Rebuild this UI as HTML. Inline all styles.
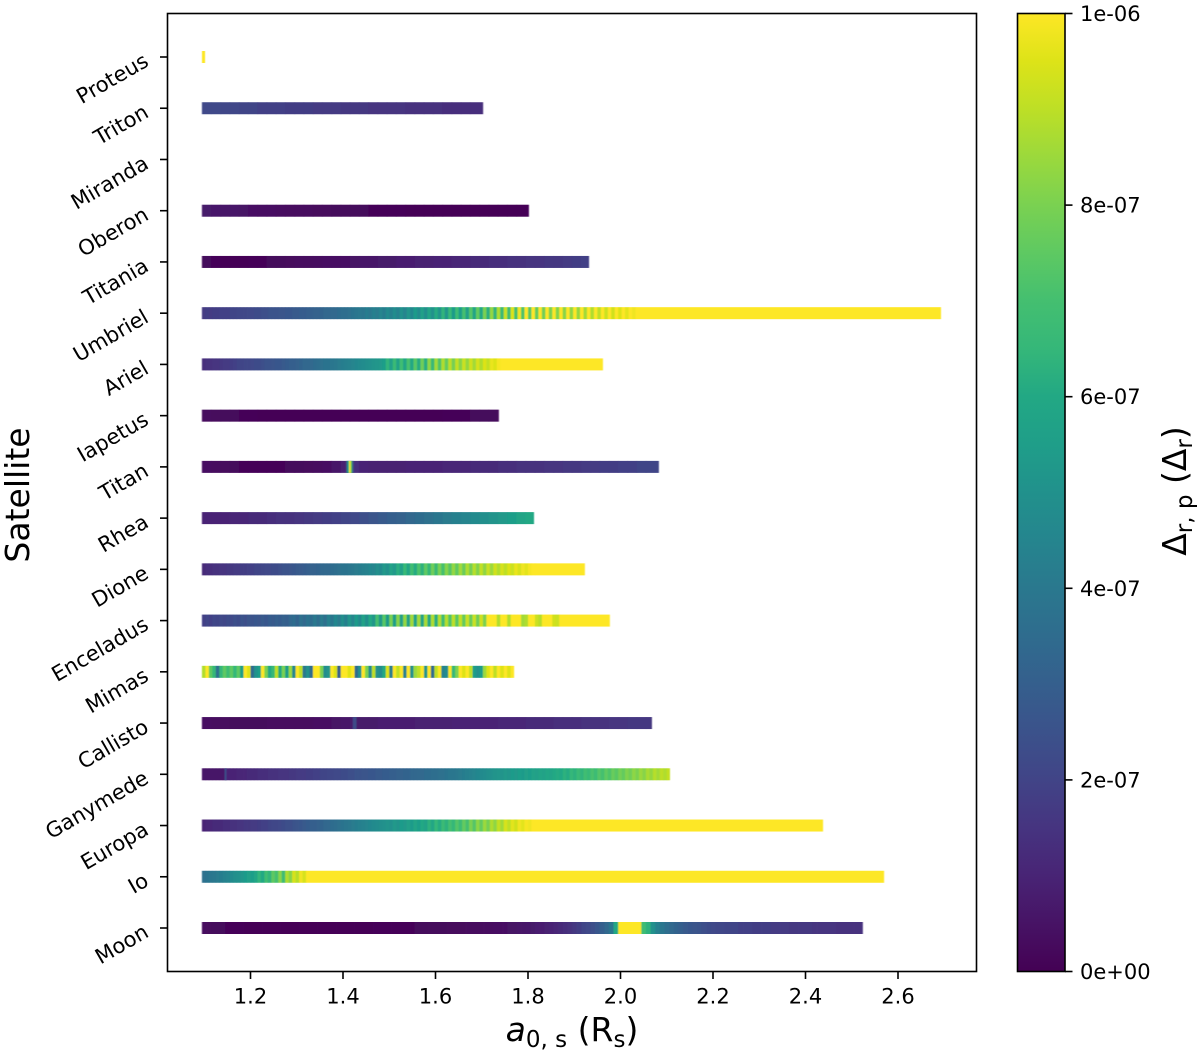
<!DOCTYPE html>
<html lang="en">
<head>
<meta charset="utf-8">
<title>Satellite heatmap</title>
<style>
html,body{margin:0;padding:0;background:#fff;}
svg{display:block;}
text{font-family:"DejaVu Sans","Liberation Sans",sans-serif;fill:#000;}
</style>
</head>
<body>
<svg id="chart" xmlns="http://www.w3.org/2000/svg" width="1200" height="1054" viewBox="0 0 1200 1054">
  <defs>
    <filter id="soft" x="-2%" y="-60%" width="104%" height="220%">
      <feGaussianBlur stdDeviation="0.4 0.3"/>
    </filter>
    <linearGradient id="viridis-gradient" x1="0" y1="1" x2="0" y2="0"></linearGradient>
  </defs>
  <rect x="0" y="0" width="1200" height="1054" fill="#fff"/>
  <g id="bars"></g>
  <rect x="167.5" y="13.5" width="809" height="958" fill="none" stroke="#000" stroke-width="1.6"/>
  <g id="xticks"></g>
  <g id="yticks"></g>
  <text x="572" y="1041" text-anchor="middle" font-size="33"><tspan font-style="italic">a</tspan><tspan font-size="23" dy="6">0, s</tspan><tspan dy="-6"> (R</tspan><tspan font-size="23" dy="6">s</tspan><tspan dy="-6">)</tspan></text>
  <text transform="translate(29 495) rotate(-90)" text-anchor="middle" font-size="33">Satellite</text>
  <rect x="1017.5" y="13.5" width="47.5" height="958" fill="url(#viridis-gradient)" stroke="#000" stroke-width="1.6"/>
  <g id="cticks"></g>
  <text transform="translate(1186 491) rotate(-90)" text-anchor="middle" font-size="33">Δ<tspan font-size="23" dy="6">r, p</tspan><tspan dy="-6"> (Δ</tspan><tspan font-size="23" dy="6">r</tspan><tspan dy="-6">)</tspan></text>
</svg>
<script>
// Categories, bottom to top
const satellites = ["Moon","Io","Europa","Ganymede","Callisto","Mimas","Enceladus","Dione","Rhea","Titan","Iapetus","Ariel","Umbriel","Titania","Oberon","Miranda","Triton","Proteus"];
// Tick values
const xTicks = [1.2,1.4,1.6,1.8,2.0,2.2,2.4,2.6];
const colorTicks = [0,2,4,6,8,10];
const colorTickLabels = ["0e+00","2e-07","4e-07","6e-07","8e-07","1e-06"];
// Outer edge of the a0,s range for each satellite (null: nothing plotted)
const rowStart = 1.095;
const rowEnds = [2.524,2.57,2.438,2.107,2.068,1.77,1.977,1.923,1.813,2.083,1.737,1.962,2.693,1.932,1.802,null,1.703,1.102];
// a0,s spacing between samples for each satellite
const rowSteps = [0.01,0.0075,0.0075,0.0075,0.02,0.0075,0.0075,0.0075,0.02,0.02,0.02,0.0075,0.0075,0.02,0.02,0.02,0.02,0.007];
// Series values, in units of 1e-7; the last sample continues to the row edge
const valuesMoon = [0.3,0.25,0.2,0.2,0.2,0.15,0.15,0.15,0.15,0.1,0.1,0.1,0.1,0.1,0.1,0.1,0.1,0.1,0.1,0.1,0.1,0.1,0.1,0.1,0.1,0.1,0.1,0.1,0.1,0.1,0.1,0.1,0.1,0.1,0.1,0.1,0.1,0.15,0.15,0.15,0.15,0.15,0.15,0.15,0.15,0.15,0.2,0.2,0.2,0.2,0.2,0.2,0.2,0.25,0.25,0.25,0.25,0.3,0.3,0.3,0.3,0.35,0.35,0.4,0.4,0.45,0.5,0.5,0.55,0.6,0.65,0.7,0.8,0.8,0.9,1.0,1.1,1.2,1.3,1.4,1.6,1.8,2.0,2.2,2.4,2.7,3.0,3.4,3.9,6,10,10,10,10,10,6.8,6.3,5.0,4.3,3.9,3.6,3.4,3.2,3.0,2.8,2.7,2.6,2.5,2.4,2.3,2.2,2.1,2.1,2.0,2.0,2.0,1.9,1.9,1.9,1.8,1.8,1.8,1.8,1.7,1.7,1.7,1.7,1.6,1.6,1.6,1.6,1.6,1.5,1.5,1.5,1.5,1.5,1.4,1.4,1.4,1.4,1.4,1.4];
const valuesIo = [3.7,3.8,3.9,4.0,4.1,4.2,4.4,4.5,4.7,4.9,5.0,5.2,5.4,5.6,5.5,5.9,6.4,6.0,6.9,6.4,7.5,7.0,8.2,6.8,8.8,8.2,9.4,8.9,9.8,9.4,10];
const valuesEuropa = [1.0,1.1,1.1,1.2,1.2,1.2,1.3,1.3,1.4,1.4,1.5,1.5,1.6,1.6,1.7,1.7,1.8,1.9,1.9,2.0,2.1,2.1,2.2,2.3,2.4,2.4,2.5,2.6,2.7,2.8,2.9,3.0,3.0,3.1,3.2,3.3,3.4,3.5,3.6,3.7,3.8,3.9,4.0,4.1,4.2,4.3,4.4,4.5,4.6,4.7,4.8,4.9,5.0,5.1,5.0,5.3,5.1,5.4,5.3,5.6,5.4,5.8,5.5,6.0,5.7,6.3,5.9,6.5,6.1,6.7,6.3,7.0,6.5,7.3,6.8,7.6,7.0,8.0,7.3,8.3,7.6,8.5,7.9,8.8,8.3,9.1,8.6,9.4,9.0,9.6,9.3,9.8,9.6,9.9,9.8,10,10,10];
const valuesGanymede = [0.6,0.6,0.6,0.6,0.6,0.6,0.6,1.0,1.0,1.0,1.1,1.1,1.1,1.2,1.2,1.2,1.3,1.3,1.3,1.4,1.4,1.4,1.5,1.5,1.5,1.6,1.6,1.7,1.7,1.7,1.8,1.8,1.9,1.9,2.0,2.0,2.1,2.1,2.2,2.2,2.3,2.3,2.4,2.4,2.5,2.5,2.6,2.6,2.7,2.7,2.8,2.8,2.9,2.9,3.0,3.0,3.1,3.1,3.2,3.2,3.3,3.3,3.4,3.4,3.5,3.5,3.6,3.6,3.7,3.7,3.8,3.9,3.9,4.0,4.1,4.2,4.3,4.4,4.5,4.6,4.7,4.8,4.9,5.0,5.1,5.2,5.1,5.3,5.2,5.4,5.3,5.5,5.4,5.6,5.5,5.7,5.6,5.8,5.7,5.9,5.8,6.0,6.1,6.0,6.3,6.1,6.5,6.3,6.7,6.4,6.9,6.6,7.1,6.8,7.3,7.0,7.5,7.2,7.7,7.4,7.9,7.6,8.1,7.8,8.3,8.0,8.5,8.2,8.7,8.4,8.9,8.6,9.0,8.8,9.1];
const valuesCallisto = [0.4,0.3,0.3,0.2,0.2,0.2,0.2,0.3,0.3,0.3,0.3,0.3,0.4,0.4,0.5,0.6,0.7,0.7,0.7,0.8,0.8,0.8,0.8,0.9,0.9,0.9,0.9,1.0,1.0,1.0,1.0,1.0,1.1,1.1,1.1,1.2,1.2,1.2,1.3,1.3,1.3,1.4,1.4,1.4,1.5,1.5,1.6,1.6,1.6];
const valuesMimas = [8.8,10,7.5,6.5,3.7,6.5,7.5,6.8,7.5,6.5,7.5,5.5,10,9.5,3.5,5,5.5,10,8,6,6.5,9,6,8,5.5,8.5,4.6,10,9,4,5,3.5,10,10,8,4.8,5.2,10,9.5,3,10,10,9.5,10,3.5,5,10,8,4.8,9,5,4.8,6,9.5,4.2,10,9,10,4.4,10,5,8.5,9,10,5.2,10,3.5,9,10,4.4,4.8,10,6.5,8,10,9.5,10,9,5.5,5,5.5,8.5,9.5,10,9,10,9.5,10,9.5,10,10];
const valuesEnceladus = [1.9,2.0,1.9,2.1,2.0,2.2,2.1,2.3,2.2,2.4,2.3,2.5,2.4,2.6,2.5,2.7,2.6,2.8,2.7,2.9,2.8,3.0,2.9,3.1,3.0,3.3,3.5,3.2,3.7,3.4,3.8,3.5,4.0,3.6,4.1,3.7,4.4,3.9,4.6,4.1,4.9,4.3,5.2,4.5,5.4,4.7,5.7,4.9,6.0,5.2,7.0,5.3,7.4,5.4,8.0,5.5,8.2,5.6,8.4,5.7,8.6,5.8,8.6,5.8,8.7,6.0,8.8,6.2,8.9,6.8,8.9,7.2,9.0,7.4,9.1,7.6,9.2,7.7,9.2,7.8,9.3,8.0,10,10,10,8.8,10,10,8.8,10,10,10,8.6,8.8,10,10,9.2,8.9,10,10,10,9.3,9.2,10];
const valuesDione = [1.2,1.3,1.3,1.4,1.4,1.5,1.5,1.6,1.6,1.7,1.7,1.8,1.8,1.9,1.9,2.0,2.0,2.1,2.2,2.2,2.3,2.3,2.4,2.5,2.5,2.6,2.7,2.8,2.8,2.9,3.0,3.1,3.1,3.2,3.3,3.4,3.4,3.5,3.6,3.7,3.8,3.8,3.9,4.0,4.1,4.2,4.3,4.4,4.6,4.5,4.9,4.7,5.3,5.0,5.7,5.3,6.2,5.6,6.6,5.9,6.9,6.1,7.2,6.3,7.5,6.5,7.8,6.7,8.0,7.0,8.2,7.3,8.4,7.5,8.6,7.7,8.8,7.9,8.9,8.1,9.1,8.3,9.2,8.5,9.3,8.8,9.4,9.0,9.5,9.2,9.7,9.4,9.8,9.6,9.9,10,10];
const valuesRhea = [1.0,1.0,1.0,1.1,1.1,1.2,1.2,1.3,1.4,1.4,1.5,1.6,1.7,1.8,1.9,2.0,2.2,2.4,2.6,2.8,3.0,3.1,3.3,3.5,3.7,3.9,4.1,4.3,4.5,4.7,4.9,5.1,5.3,5.5,5.8,6.0];
const valuesTitan = [0.4,0.3,0.25,0.2,0.15,0.15,0.15,0.15,0.15,0.2,0.2,0.25,0.3,0.4,0.6,0.9,1.3,1.0,0.9,0.9,0.9,0.9,1.0,1.0,1.0,1.0,1.1,1.1,1.1,1.2,1.2,1.2,1.3,1.3,1.4,1.4,1.4,1.5,1.5,1.6,1.6,1.7,1.7,1.8,1.8,1.9,1.9,2.0,2.0];
const valuesIapetus = [0.3,0.25,0.2,0.2,0.15,0.15,0.1,0.1,0.1,0.1,0.1,0.1,0.1,0.1,0.1,0.1,0.1,0.1,0.1,0.1,0.1,0.1,0.1,0.1,0.1,0.1,0.15,0.15,0.15,0.2,0.2,0.2];
const valuesAriel = [1.3,1.4,1.4,1.5,1.5,1.6,1.7,1.7,1.8,1.9,2.0,2.0,2.1,2.1,2.2,2.3,2.3,2.4,2.5,2.5,2.6,2.7,2.7,2.8,2.9,3.0,3.0,3.1,3.2,3.3,3.3,3.4,3.5,3.6,3.7,3.8,3.8,3.9,4.0,4.1,4.2,4.3,4.4,4.5,4.6,4.7,4.8,4.9,5.0,5.1,5.2,5.3,5.5,6.4,5.6,6.7,5.7,6.9,5.8,7.1,6.0,7.4,6.1,7.8,6.2,8.3,6.6,8.6,7.2,8.8,7.6,9.0,7.9,9.1,8.2,9.2,8.4,9.3,8.6,9.4,8.8,9.5,9.1,9.7,9.5,9.9,10];
const valuesUmbriel = [1.7,1.8,1.7,1.8,1.8,1.9,1.9,1.9,2.0,2.0,2.1,2.1,2.1,2.2,2.2,2.3,2.3,2.4,2.4,2.5,2.5,2.5,2.6,2.6,2.7,2.7,2.8,2.8,2.9,2.9,3.0,3.0,3.1,3.1,3.2,3.3,3.3,3.4,3.4,3.5,3.6,3.6,3.7,3.8,3.9,4.0,3.9,4.2,4.0,4.3,4.1,4.5,4.2,4.7,4.3,4.8,4.4,5.0,4.5,5.2,4.6,5.4,4.8,5.6,4.9,5.8,5.0,6.1,5.1,6.4,5.2,6.6,5.4,6.8,5.5,7.0,5.6,7.3,5.8,7.6,6.0,8.0,6.2,8.4,6.4,8.8,6.6,9.2,6.8,9.5,7.0,9.8,7.2,10,7.4,10,7.6,10,7.8,10,8.0,10,8.1,10,8.2,10,8.3,10,8.4,10,8.6,10,8.8,10,9.0,10,9.2,10,9.3,10,9.5,10,9.6,10,9.8,10];
const valuesTitania = [0.2,0.15,0.1,0.1,0.1,0.15,0.15,0.2,0.2,0.25,0.3,0.3,0.35,0.4,0.4,0.45,0.5,0.55,0.6,0.7,0.7,0.8,0.8,0.9,0.9,1.0,1.0,1.1,1.1,1.2,1.2,1.3,1.3,1.4,1.4,1.5,1.5,1.6,1.6,1.7,1.8,1.9];
const valuesOberon = [0.7,0.65,0.6,0.55,0.5,0.45,0.4,0.4,0.35,0.3,0.3,0.3,0.25,0.25,0.2,0.2,0.2,0.2,0.15,0.15,0.15,0.15,0.1,0.1,0.1,0.1,0.1,0.1,0.1,0.1,0.1,0.1,0.1,0.1,0.1];
const valuesMiranda = [];
const valuesTriton = [2.2,2.2,2.1,2.1,2.0,2.0,1.9,1.9,1.9,1.8,1.8,1.8,1.7,1.7,1.7,1.6,1.6,1.6,1.5,1.5,1.5,1.5,1.4,1.4,1.4,1.4,1.3,1.3,1.3,1.3];
const valuesProteus = [10];
const seriesValues = [valuesMoon,valuesIo,valuesEuropa,valuesGanymede,valuesCallisto,valuesMimas,valuesEnceladus,valuesDione,valuesRhea,valuesTitan,valuesIapetus,valuesAriel,valuesUmbriel,valuesTitania,valuesOberon,valuesMiranda,valuesTriton,valuesProteus];
// Narrow features on top of the rows
const spikeRows = ["Titan","Titan","Titan","Titan","Titan","Callisto","Callisto","Ganymede"];
const spikeA = [1.409,1.412,1.415,1.418,1.421,1.423,1.427,1.146];
const spikeValues = [3.5,6,10,8,3,2.2,2.4,2.4];

// Axis functions
function xScale(a){ return 250.5 + (a - 1.2) * 462.5; }
function yScale(i){ return 928 - i * 51.235; }
function cScale(v){ return 971.5 - v * 95.8; }

// Viridis colour map stops
const viridis = ["#440154","#471365","#482475","#463480","#414487","#3b528b","#355f8d","#2f6c8e","#2a788e","#25858e","#21918c","#1f9e89","#22a884","#35b779","#44bf70","#5ec962","#7ad151","#9bd93c","#bddf26","#dde318","#fde725"];
function hexRgb(h){ return [parseInt(h.slice(1,3),16),parseInt(h.slice(3,5),16),parseInt(h.slice(5,7),16)]; }
function colorOf(v){
  const t = Math.max(0, Math.min(1, v / 10)) * (viridis.length - 1);
  const k = Math.min(viridis.length - 2, Math.floor(t));
  const f = t - k;
  const p = hexRgb(viridis[k]);
  const q = hexRgb(viridis[k + 1]);
  return "rgb(" + [0,1,2].map(function(c){ return Math.round(p[c] + (q[c] - p[c]) * f); }).join(",") + ")";
}

const NS = "http://www.w3.org/2000/svg";
function mk(tag, attrs, parent){
  const el = document.createElementNS(NS, tag);
  Object.keys(attrs).forEach(function(k){ el.setAttribute(k, attrs[k]); });
  parent.appendChild(el);
  return el;
}

// Colorbar gradient
const grad = document.getElementById("viridis-gradient");
viridis.forEach(function(c, i){
  mk("stop", {offset: (i / (viridis.length - 1)), "stop-color": c}, grad);
});

// Heatmap rows
const BAR_H = 12;
const barsG = document.getElementById("bars");
satellites.forEach(function(name, r){
  const vals = seriesValues[r];
  const end = rowEnds[r];
  if (end === null || !vals.length) return;
  const g = mk("g", {filter: "url(#soft)"}, barsG);
  
  
  const step = rowSteps[r];
  const y = yScale(r) - BAR_H / 2;
  for (let i = 0; i < vals.length; i++) {
    const a0 = rowStart + i * step;
    if (a0 >= end) break;
    const a1 = (i === vals.length - 1) ? end : Math.min(end, a0 + step);
    const x0 = xScale(a0);
    const x1 = xScale(a1);
    const overlap = a1 < end ? 0.4 : 0;
    const cell = mk("rect", {x: x0, y: y, width: x1 - x0 + overlap, height: BAR_H, fill: colorOf(vals[i])}, g);
    
    
  }
  spikeRows.forEach(function(sr, s){
    if (sr !== name) return;
    const sp = mk("rect", {x: xScale(spikeA[s]) - 0.9, y: y, width: 1.8, height: BAR_H, fill: colorOf(spikeValues[s])}, g);
    
    
  });
});

// X axis
const xG = document.getElementById("xticks");
xTicks.forEach(function(t){
  const x = xScale(t);
  const tick = mk("line", {x1: x, x2: x, y1: 971.5, y2: 979, stroke: "#000", "stroke-width": 1.6}, xG);
  
  
  const lab = mk("text", {x: x, y: 1003.5, "text-anchor": "middle", "font-size": 21}, xG);
  
  
  lab.textContent = t.toFixed(1);
});

// Y axis
const yG = document.getElementById("yticks");
satellites.forEach(function(name, r){
  const y = yScale(r);
  const tick = mk("line", {x1: 160, x2: 167.5, y1: y, y2: y, stroke: "#000", "stroke-width": 1.6}, yG);
  
  
  const lx = 150;
  const ly = y + 8;
  const lab = mk("text", {x: lx, y: ly, "text-anchor": "end", "font-size": 21, transform: "rotate(-30 " + lx + " " + ly + ")"}, yG);
  
  
  lab.textContent = name;
});

// Colorbar ticks
const cG = document.getElementById("cticks");
colorTicks.forEach(function(v, i){
  const y = cScale(v);
  const tick = mk("line", {x1: 1065, x2: 1072.5, y1: y, y2: y, stroke: "#000", "stroke-width": 1.6}, cG);
  
  
  const lab = mk("text", {x: 1080, y: y + 7.5, "font-size": 21}, cG);
  
  
  lab.textContent = colorTickLabels[i];
});
</script>
</body>
</html>
